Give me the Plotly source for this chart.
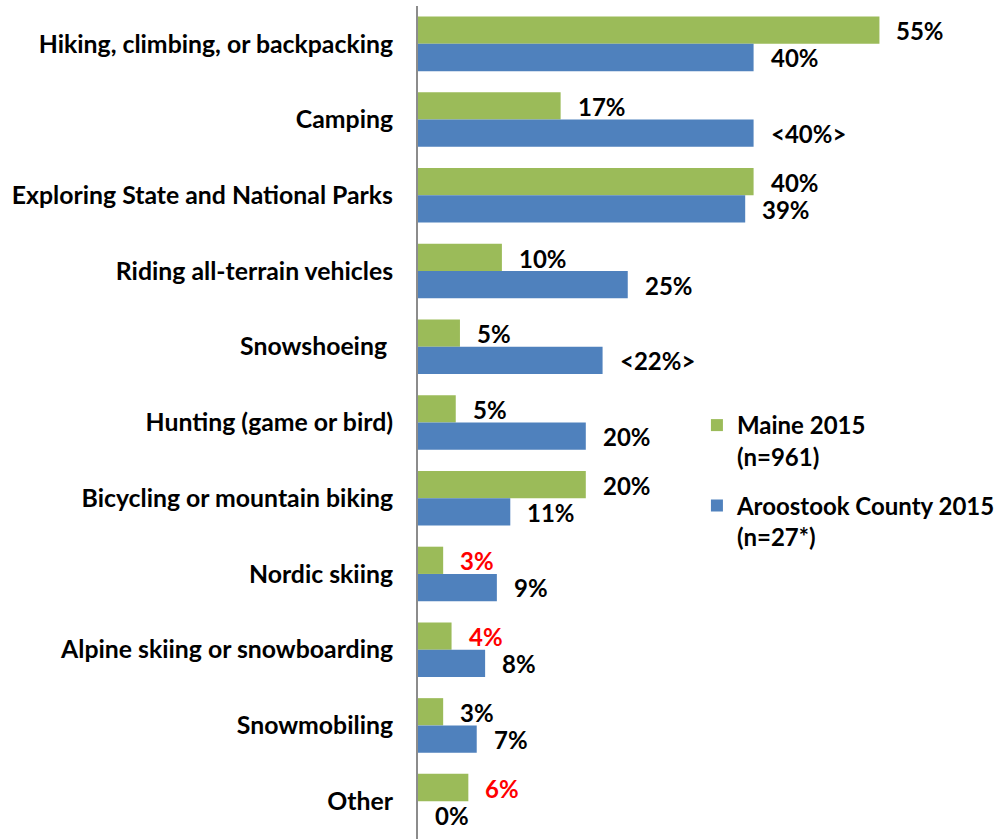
import plotly.graph_objects as go

categories = [
    "Hiking, climbing, or backpacking",
    "Camping",
    "Exploring State and National Parks",
    "Riding all-terrain vehicles",
    "Snowshoeing ",
    "Hunting (game or bird)",
    "Bicycling or mountain biking",
    "Nordic skiing",
    "Alpine skiing or snowboarding",
    "Snowmobiling",
    "Other",
]
maine_values = [55, 17, 40, 10, 5, 4.5, 20, 3, 4, 3, 6]
aroostook_values = [40, 40, 39, 25, 22, 20, 11, 9.4, 8, 7, 0]
maine_labels = ["55%", "17%", "40%", "10%", "5%", "5%", "20%", "3%", "4%", "3%", "6%"]
aroostook_labels = ["40%", "<40%>", "39%", "25%", "<22%>", "20%", "11%", "9%", "8%", "7%", "0%"]
maine_label_colors = ["black"] * 7 + ["#FF0000", "#FF0000", "black", "#FF0000"]
aroostook_label_colors = ["black"] * 11

GREEN = "#9BBB59"
BLUE = "#4F81BD"
FONT = "Lato"

fig = go.Figure()
fig.add_trace(go.Bar(
    y=categories, x=maine_values, orientation="h",
    name="Maine 2015<br>(n=961)", legendgroup="g1",
    marker=dict(color=GREEN, line=dict(width=0)),
))
fig.add_trace(go.Bar(
    y=categories, x=aroostook_values, orientation="h",
    name="Aroostook County 2015<br>(n=27*)", legendgroup="g2",
    marker=dict(color=BLUE, line=dict(width=0)),
))

annotations = []
for cat, v, t, c in zip(categories, maine_values, maine_labels, maine_label_colors):
    annotations.append(dict(x=v, y=cat, text=t, showarrow=False, xanchor="left",
                            xshift=15, yshift=13, font=dict(family=FONT, size=24, color=c,
                                                            weight="bold")))
for cat, v, t, c in zip(categories, aroostook_values, aroostook_labels, aroostook_label_colors):
    annotations.append(dict(x=v, y=cat, text=t, showarrow=False, xanchor="left",
                            xshift=15, yshift=-14, font=dict(family=FONT, size=24, color=c,
                                                             weight="bold")))

fig.update_layout(
    width=1001, height=839,
    margin=dict(l=418, r=79, t=6, b=0, pad=0),
    barmode="group", bargap=0.28, bargroupgap=0,
    plot_bgcolor="white", paper_bgcolor="white",
    font=dict(family=FONT, size=24, color="black", weight="bold"),
    xaxis=dict(range=[0, 59], showgrid=False, zeroline=False, showticklabels=False,
               showline=False, ticks="", automargin=False),
    yaxis=dict(autorange="reversed", showgrid=False, zeroline=False, showline=True,
               linecolor="#8C8C8C", linewidth=2, ticks="", ticklabelstandoff=18,
               automargin=False,
               tickfont=dict(family=FONT, size=24.8, color="black", weight="bold")),
    legend=dict(x=(702 - 418) / 504, y=1 - (403 - 6) / 833, xanchor="left", yanchor="top",
                valign="top", tracegroupgap=15, itemwidth=30,
                font=dict(family=FONT, size=24, color="black", weight="bold"),
                bgcolor="rgba(0,0,0,0)"),
    annotations=annotations,
)

fig.write_html("out.html", config={"displayModeBar": False},
               post_script="document.body.style.margin='0';")
